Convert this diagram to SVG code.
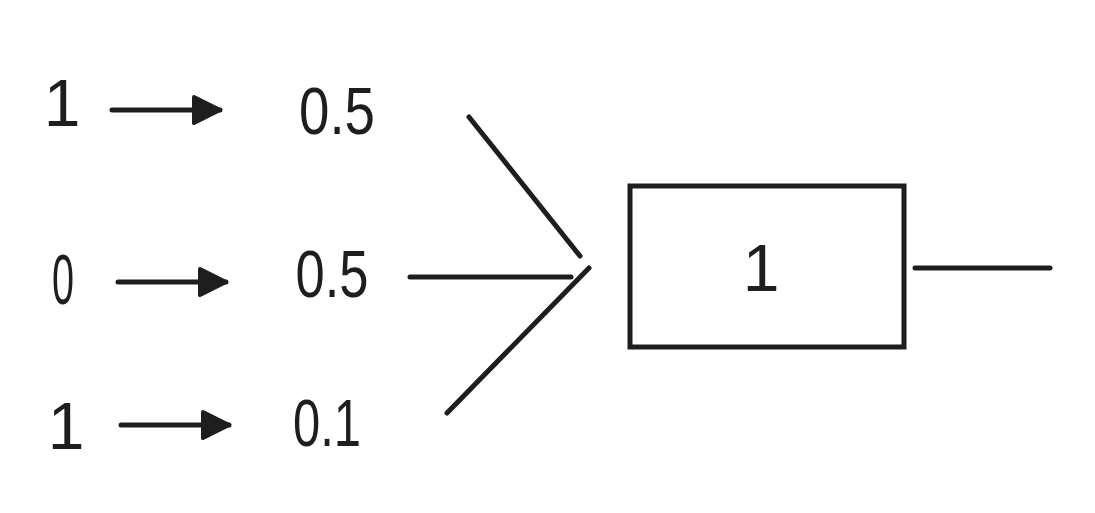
<svg xmlns="http://www.w3.org/2000/svg" width="1095" height="513" viewBox="0 0 1095 513">
<style>
.t{font-family:"Liberation Sans",Arial,sans-serif;font-size:66px;fill:#1e1e1e;text-anchor:middle}
.l{stroke:#1e1e1e;stroke-width:5;stroke-linecap:round;fill:none}
</style>
<defs>
<marker id="ah" markerUnits="userSpaceOnUse" viewBox="0 0 32 32" refX="29" refY="16" markerWidth="32" markerHeight="32" orient="auto">
<path d="M3,3 L29,16 L3,29 Z" fill="#1e1e1e" stroke="#1e1e1e" stroke-width="4" stroke-linejoin="round"/>
</marker>
</defs>
<rect width="1095" height="513" fill="#ffffff"/>
<g id="in1"><text class="t" x="62" y="126">1</text></g>
<g id="in2"><text class="t" x="63" y="304" textLength="22" lengthAdjust="spacingAndGlyphs" style="font-size:70px">0</text></g>
<g id="in3"><text class="t" x="66" y="449">1</text></g>
<g id="w1"><text class="t" x="337" y="134" textLength="76" lengthAdjust="spacingAndGlyphs">0.5</text></g>
<g id="w2"><text class="t" x="332" y="297" textLength="73" lengthAdjust="spacingAndGlyphs">0.5</text></g>
<g id="w3"><text class="t" x="327" y="446" textLength="68" lengthAdjust="spacingAndGlyphs">0.1</text></g>
<g id="sum">
<rect x="630" y="186" width="274" height="161" class="l"/>
<text class="t" x="761" y="291">1</text>
</g>
<g id="connectors">
<line class="l" x1="112" y1="110" x2="220" y2="110" marker-end="url(#ah)"/>
<line class="l" x1="118" y1="282" x2="226" y2="282" marker-end="url(#ah)"/>
<line class="l" x1="121" y1="425" x2="229" y2="425" marker-end="url(#ah)"/>
<line class="l" x1="469" y1="117" x2="580" y2="256"/>
<line class="l" x1="410" y1="277" x2="571" y2="277"/>
<line class="l" x1="447" y1="413" x2="589" y2="268"/>
<line class="l" x1="915" y1="268" x2="1050" y2="268"/>
</g>
</svg>
